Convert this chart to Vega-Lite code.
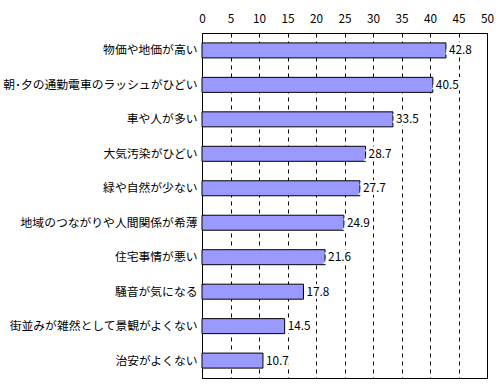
{
  "$schema": "https://vega.github.io/schema/vega-lite/v6.json",
  "autosize": {"type": "none"},
  "padding": {"left": 202, "top": 33, "right": 13, "bottom": 7},
  "width": 285,
  "height": 345,
  "background": "white",
  "config": {
    "font": "Noto Sans CJK JP",
    "view": {"stroke": "black", "strokeWidth": 1}
  },
  "data": {
    "values": [
      {"item": "物価や地価が高い", "value": 42.8},
      {"item": "朝･夕の通勤電車のラッシュがひどい", "value": 40.5},
      {"item": "車や人が多い", "value": 33.5},
      {"item": "大気汚染がひどい", "value": 28.7},
      {"item": "緑や自然が少ない", "value": 27.7},
      {"item": "地域のつながりや人間関係が希薄", "value": 24.9},
      {"item": "住宅事情が悪い", "value": 21.6},
      {"item": "騒音が気になる", "value": 17.8},
      {"item": "街並みが雑然として景観がよくない", "value": 14.5},
      {"item": "治安がよくない", "value": 10.7}
    ]
  },
  "encoding": {
    "y": {
      "field": "item", "type": "nominal", "sort": null, "title": null,
      "scale": {"paddingInner": 0.59, "paddingOuter": 0.3},
      "axis": {
        "domain": false, "grid": false, "bandPosition": 0,
        "tickSize": -3, "tickColor": "black", "labelPadding": 8,
        "labelFont": "Noto Sans CJK JP", "labelFontSize": 11.8, "labelColor": "black",
        "labelLimit": 300
      }
    },
    "x": {
      "field": "value", "type": "quantitative", "title": null,
      "scale": {"domain": [0, 50], "nice": false},
      "axis": {
        "orient": "top", "values": [0, 5, 10, 15, 20, 25, 30, 35, 40, 45, 50],
        "domain": false, "ticks": false, "labelPadding": 9,
        "labelFont": "Noto Sans CJK JP", "labelFontSize": 11.8, "labelColor": "black",
        "grid": true, "gridColor": "black", "gridDash": [4, 4], "gridOpacity": 1,
        "labelFlush": false
      }
    }
  },
  "layer": [
    {"mark": {"type": "bar", "color": "#9999FF", "stroke": "black", "strokeWidth": 1, "size": 15}},
    {"mark": {"type": "text", "align": "left", "dx": 3, "fontSize": 11.8, "color": "white", "stroke": "white", "strokeWidth": 6, "font": "Noto Sans CJK JP"},
     "encoding": {"text": {"field": "value", "type": "quantitative", "format": ".1f"}}},
    {"mark": {"type": "text", "align": "left", "dx": 3, "fontSize": 11.8, "color": "black", "font": "Noto Sans CJK JP"},
     "encoding": {"text": {"field": "value", "type": "quantitative", "format": ".1f"}}}
  ]
}
